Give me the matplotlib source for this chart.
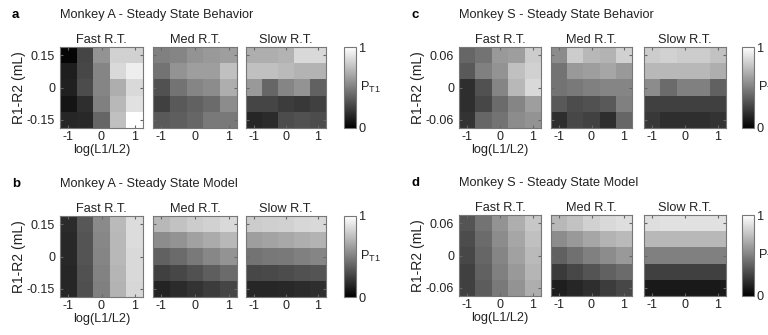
import matplotlib.pyplot as plt
import numpy as np

plt.rcParams['font.family'] = ['Liberation Sans', 'DejaVu Sans']
plt.rcParams['mathtext.fontset'] = 'custom'
plt.rcParams['mathtext.rm'] = 'Liberation Sans'
plt.rcParams['font.size'] = 9

rt_names = ['Fast R.T.', 'Med R.T.', 'Slow R.T.']
x_ticks = [-1, 0, 1]
x_ticklabels = ['-1', '0', '1']

# rows: top (largest R1-R2) to bottom, columns: log(L1/L2) from -1 to 1
a_fast = [[0.02, 0.27, 0.58, 0.82, 0.82],
          [0.12, 0.28, 0.52, 0.85, 0.93],
          [0.13, 0.30, 0.52, 0.68, 0.85],
          [0.08, 0.18, 0.50, 0.72, 0.88],
          [0.15, 0.16, 0.40, 0.75, 1.00]]
a_med = [[0.50, 0.52, 0.58, 0.60, 0.62],
         [0.45, 0.58, 0.62, 0.62, 0.75],
         [0.32, 0.45, 0.52, 0.55, 0.68],
         [0.25, 0.35, 0.38, 0.42, 0.55],
         [0.35, 0.37, 0.40, 0.48, 0.48]]
a_slow = [[0.68, 0.68, 0.70, 0.85, 0.85],
          [0.75, 0.75, 0.73, 0.70, 0.70],
          [0.60, 0.40, 0.52, 0.58, 0.38],
          [0.27, 0.27, 0.24, 0.22, 0.25],
          [0.15, 0.17, 0.30, 0.32, 0.30]]

b_fast = [[0.17, 0.34, 0.54, 0.73, 0.86],
          [0.16, 0.33, 0.53, 0.72, 0.86],
          [0.16, 0.33, 0.52, 0.72, 0.85],
          [0.15, 0.32, 0.51, 0.71, 0.85],
          [0.15, 0.31, 0.50, 0.70, 0.84]]
b_med = [[0.72, 0.76, 0.80, 0.82, 0.85],
         [0.55, 0.58, 0.63, 0.67, 0.72],
         [0.38, 0.42, 0.48, 0.53, 0.58],
         [0.25, 0.28, 0.32, 0.37, 0.42],
         [0.14, 0.17, 0.20, 0.24, 0.27]]
b_slow = [[0.80, 0.81, 0.82, 0.84, 0.85],
          [0.62, 0.64, 0.66, 0.68, 0.70],
          [0.45, 0.47, 0.48, 0.50, 0.52],
          [0.28, 0.29, 0.30, 0.32, 0.33],
          [0.15, 0.15, 0.16, 0.17, 0.18]]

c_fast = [[0.40, 0.45, 0.60, 0.62, 0.80],
          [0.35, 0.50, 0.58, 0.75, 0.82],
          [0.18, 0.32, 0.52, 0.72, 0.85],
          [0.18, 0.28, 0.42, 0.52, 0.62],
          [0.20, 0.40, 0.45, 0.55, 0.58]]
c_med = [[0.55, 0.80, 0.72, 0.70, 0.82],
         [0.45, 0.60, 0.62, 0.65, 0.60],
         [0.45, 0.48, 0.50, 0.52, 0.52],
         [0.35, 0.30, 0.32, 0.35, 0.50],
         [0.18, 0.28, 0.26, 0.18, 0.40]]
c_slow = [[0.80, 0.82, 0.80, 0.80, 0.76],
          [0.72, 0.72, 0.72, 0.72, 0.68],
          [0.55, 0.42, 0.50, 0.50, 0.38],
          [0.25, 0.25, 0.25, 0.25, 0.25],
          [0.22, 0.18, 0.18, 0.18, 0.20]]

d_fast = [[0.33, 0.45, 0.58, 0.68, 0.78],
          [0.30, 0.42, 0.55, 0.65, 0.75],
          [0.28, 0.40, 0.52, 0.63, 0.73],
          [0.25, 0.38, 0.50, 0.60, 0.71],
          [0.25, 0.36, 0.48, 0.58, 0.68]]
d_med = [[0.72, 0.76, 0.82, 0.85, 0.87],
         [0.55, 0.60, 0.65, 0.70, 0.73],
         [0.38, 0.44, 0.50, 0.55, 0.60],
         [0.23, 0.28, 0.33, 0.38, 0.42],
         [0.12, 0.15, 0.18, 0.24, 0.28]]
d_slow = [[0.87, 0.88, 0.88, 0.88, 0.88],
          [0.72, 0.72, 0.72, 0.72, 0.72],
          [0.50, 0.50, 0.50, 0.50, 0.50],
          [0.25, 0.25, 0.25, 0.25, 0.25],
          [0.10, 0.10, 0.10, 0.10, 0.10]]

W, H = 768, 335
fig = plt.figure(figsize=(W / 100, H / 100), dpi=100)
txt = '#222222'


def px_axes(x0, y0, x1, y1):
    return fig.add_axes([x0 / W, 1 - y1 / H, (x1 - x0) / W, (y1 - y0) / H])


def draw_panel(letter, title, maps, rmax, ylabels, left, top, heat_x, cbar_x):
    fig.text(left / W, 1 - top / H, letter, fontweight='bold', fontsize=9.5,
             va='center', ha='left')
    fig.text(heat_x[0][0] / W, 1 - top / H, title, va='center', ha='left',
             color=txt, fontsize=9.2)
    y0, y1 = top + 32, top + 113
    step_x = 0.5
    step_y = rmax / 2
    ext = [-1 - step_x / 2, 1 + step_x / 2, -rmax - step_y / 2, rmax + step_y / 2]
    for i, (data, name) in enumerate(zip(maps, rt_names)):
        ax = px_axes(heat_x[i][0], y0, heat_x[i][1], y1)
        im = ax.imshow(np.array(data), cmap='gray', vmin=0, vmax=1,
                       extent=ext, aspect='auto', interpolation='nearest')
        ax.set_title(name, fontsize=9.2, pad=3, color=txt)
        ax.set_xticks(x_ticks)
        ax.set_xticklabels(x_ticklabels)
        ax.set_yticks([-rmax, 0, rmax])
        ax.tick_params(direction='in', length=2, top=True, right=True,
                       color='#666666', labelcolor=txt, labelsize=9)
        ax.tick_params(axis='x', pad=2)
        ax.tick_params(axis='y', pad=3.5)
        for s in ax.spines.values():
            s.set_color('#777777')
            s.set_linewidth(0.8)
        if i == 0:
            ax.set_yticklabels(ylabels)
            ax.set_ylabel('R1-R2 (mL)', labelpad=0.5, color=txt, fontsize=10)
            ax.set_xlabel('log(L1/L2)', labelpad=1, color=txt, fontsize=9.2)
        else:
            ax.set_yticklabels([])
    cax = px_axes(cbar_x, y0, cbar_x + 12, y1)
    cb = fig.colorbar(im, cax=cax, ticks=[0, 1])
    cb.ax.set_yticklabels(['0', '1'])
    cb.ax.tick_params(length=0, pad=2, labelcolor=txt, labelsize=9.2)
    cb.outline.set_edgecolor('#777777')
    cb.outline.set_linewidth(0.8)
    cax.text(1.3, 0.5, r'P$_{\mathrm{T1}}$', transform=cax.transAxes,
             va='center', ha='left', fontsize=9.2, color=txt)


draw_panel('a', 'Monkey A - Steady State Behavior', [a_fast, a_med, a_slow],
           0.15, ['-0.15', '0', '0.15'], 12, 15,
           [(60, 143), (153, 237), (246, 326)], 344)
draw_panel('b', 'Monkey A - Steady State Model', [b_fast, b_med, b_slow],
           0.15, ['-0.15', '0', '0.15'], 12, 184,
           [(60, 143), (153, 237), (246, 326)], 344)
draw_panel('c', 'Monkey S - Steady State Behavior', [c_fast, c_med, c_slow],
           0.06, ['-0.06', '0', '0.06'], 412, 15,
           [(459, 541), (551, 632), (644, 726)], 742)
draw_panel('d', 'Monkey S - Steady State Model', [d_fast, d_med, d_slow],
           0.06, ['-0.06', '0', '0.06'], 412, 183,
           [(459, 541), (551, 632), (644, 726)], 742)

fig.savefig('out.png', dpi=100)
